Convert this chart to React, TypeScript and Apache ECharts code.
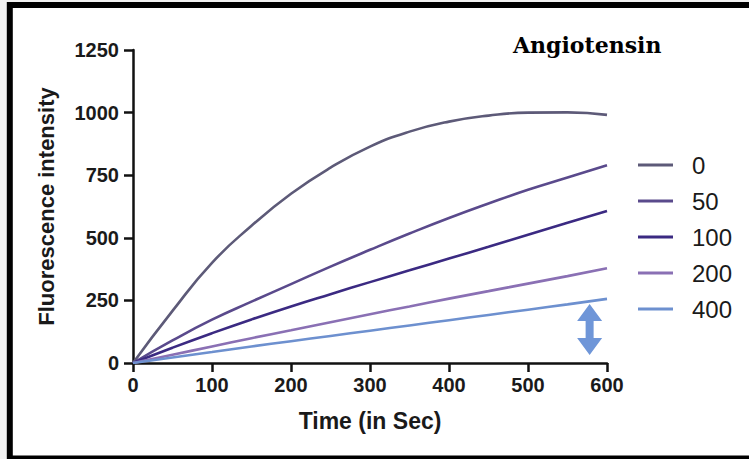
import React, { useEffect, useRef } from "react";
import * as echarts from "echarts";

const times = [0, 50, 100, 150, 200, 250, 300, 350, 400, 450, 500, 550, 600];
const seriesNames = ["0", "50", "100", "200", "400"];
const s0 = [0, 208, 400, 548, 676, 780, 864, 924, 964, 988, 1000, 1001, 991];
const s50 = [0, 90, 173, 245, 315, 385, 452, 517, 579, 637, 692, 741, 790];
const s100 = [0, 61, 119, 174, 226, 275, 323, 370, 417, 464, 512, 560, 607];
const s200 = [0, 33, 66, 99, 131, 163, 195, 226, 257, 287, 317, 347, 378];
const s400 = [0, 22, 44, 66, 87, 108, 129, 150, 171, 192, 213, 234, 256];
const colors = ["#5d5a78", "#5a4a8c", "#3b2a82", "#8a70b4", "#6d90cf"];
const xTicks = { min: 0, max: 600, interval: 100 };
const yTicks = { min: 0, max: 1250, interval: 250 };
const arrowAt = { x: 578, top: 236, bottom: 32 };

export default function App() {
  const ref = useRef<HTMLDivElement>(null);
  useEffect(() => {
    if (!ref.current) return;
    const chart = echarts.init(ref.current, null, { renderer: "svg" });
    const all = [s0, s50, s100, s200, s400];
    const axisLine = { show: true, lineStyle: { color: "#111", width: 2.5 } };
    const axisTick = { show: true, inside: false, length: 9, lineStyle: { color: "#111", width: 2.5 } };
    const labelStyle = {
      fontFamily: "Liberation Sans",
      fontWeight: "bold",
      fontSize: 20,
      color: "#1a1a1a",
      formatter: (v: number) => String(v),
    } as any;
    chart.setOption({
      animation: false,
      backgroundColor: "#f2f2f2",
      grid: { left: 133, right: 142, top: 50, bottom: 96, outerBoundsMode: "none" } as any,
      xAxis: {
        type: "value",
        ...xTicks,
        name: "Time (in Sec)",
        nameLocation: "middle",
        nameGap: 46,
        nameTextStyle: { fontFamily: "Liberation Sans", fontWeight: "bold", fontSize: 23, color: "#1a1a1a" },
        axisLine,
        axisTick,
        splitLine: { show: false },
        axisLabel: { ...labelStyle, margin: 12 },
      },
      yAxis: {
        type: "value",
        ...yTicks,
        name: "Fluorescence intensity",
        nameLocation: "middle",
        nameGap: 76,
        nameTextStyle: { fontFamily: "Liberation Sans", fontWeight: "bold", fontSize: 22, color: "#1a1a1a" },
        axisLine,
        axisTick,
        splitLine: { show: false },
        axisLabel: { ...labelStyle, margin: 14 },
      },
      legend: {
        orient: "vertical",
        left: 638,
        top: 152,
        padding: 0,
        itemWidth: 35,
        itemHeight: 3,
        itemGap: 10,
        icon: "rect",
        data: seriesNames,
        textStyle: { fontFamily: "Liberation Sans", fontSize: 24, color: "#1a1a1a", lineHeight: 26, padding: [0, 0, 0, 14] },
      },
      series: seriesNames.map((n, i) => ({
        name: n,
        type: "line",
        data: times.map((t, j) => [t, all[i][j]]),
        smooth: 0.5,
        showSymbol: false,
        symbol: "none",
        color: colors[i],
        lineStyle: { width: 2.6, color: colors[i] },
      })),
    });
    const top = chart.convertToPixel({ gridIndex: 0 }, [arrowAt.x, arrowAt.top]) as number[];
    const bot = chart.convertToPixel({ gridIndex: 0 }, [arrowAt.x, arrowAt.bottom]) as number[];
    const cx = top[0];
    const hw = 12.5, sw = 4, hh = 17;
    const ty = top[1], by = bot[1];
    chart.setOption({
      graphic: [
        {
          type: "rect",
          z: -10,
          silent: true,
          shape: { x: 9.8, y: 5, width: 760, height: 453.5 },
          style: { fill: "#ffffff", stroke: "#000000", lineWidth: 6 },
        },
        {
          type: "polygon",
          silent: true,
          shape: {
            points: [
              [cx, ty],
              [cx + hw, ty + hh],
              [cx + sw, ty + hh],
              [cx + sw, by - hh],
              [cx + hw, by - hh],
              [cx, by],
              [cx - hw, by - hh],
              [cx - sw, by - hh],
              [cx - sw, ty + hh],
              [cx - hw, ty + hh],
            ],
          },
          style: { fill: "#6f96d8" },
        },
        {
          type: "text",
          left: 513,
          top: 34,
          style: { text: "Angiotensin", fontFamily: "DejaVu Serif", fontWeight: "bold", fontSize: 22, fill: "#000" },
        },
      ],
    });
    return () => chart.dispose();
  }, []);
  return <div ref={ref} style={{ position: "absolute", left: 0, top: 0, width: 749, height: 459 }} />;
}
